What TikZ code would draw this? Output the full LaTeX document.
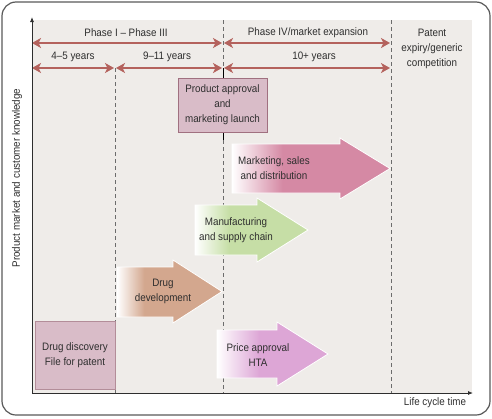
\documentclass[tikz,border=0pt]{standalone}
\usepackage{fontspec}
\setmainfont{Liberation Sans}[FakeStretch=0.91]
\usetikzlibrary{arrows.meta}
\definecolor{bg}{HTML}{EFECE9}
\definecolor{phase}{HTML}{B4625D}
\definecolor{mkt}{HTML}{D589A4}
\definecolor{mfg}{HTML}{C6DEA6}
\definecolor{dev}{HTML}{D3A78E}
\definecolor{price}{HTML}{DDA6D6}
\definecolor{boxfill}{HTML}{D9BCC8}
\definecolor{boxline}{HTML}{A07080}
\definecolor{txt}{HTML}{2E2E2E}
\pgfdeclarehorizontalshading{mktshade}{100bp}{color(0bp)=(white); color(25bp)=(white); color(41bp)=(mkt); color(100bp)=(mkt)}
\pgfdeclarehorizontalshading{mfgshade}{100bp}{color(0bp)=(white); color(25bp)=(white); color(40bp)=(mfg); color(100bp)=(mfg)}
\pgfdeclarehorizontalshading{devshade}{100bp}{color(0bp)=(white); color(25bp)=(white); color(38bp)=(dev); color(100bp)=(dev)}
\pgfdeclarehorizontalshading{priceshade}{100bp}{color(0bp)=(white); color(25bp)=(white); color(44bp)=(price); color(100bp)=(price)}
\begin{document}
\begin{tikzpicture}[x=1pt,y=-1pt,
  lbl/.style={text=txt,font=\fontsize{10.8}{15}\selectfont,align=center,inner sep=0pt},
  phasearrow/.style={draw=phase,line width=2.4pt,{Stealth[length=9pt,width=10pt,inset=2.5pt]}-{Stealth[length=9pt,width=10pt,inset=2.5pt]}},
  guide/.style={draw=gray!85!black,line width=0.6pt,dash pattern=on 4pt off 3pt},
  milestone/.style={draw=boxline,fill=boxfill,line width=0.7pt},
  blockarrow/.style={draw=white,line width=0.8pt},
  axis/.style={draw=txt,line width=0.8pt,-{Latex[length=5pt,width=4pt]}}]
\useasboundingbox (0,0) rectangle (492,418);
% frame and plot area
\draw[draw=black!65,line width=1.2pt,rounded corners=14pt] (2,2) rectangle (490,415);
\fill[bg] (32,20) rectangle (472,393);
% guide lines
\draw[guide] (115,68) -- (115,393);
\draw[guide] (223,20) -- (223,68);
\draw[guide] (223,140) -- (223,393);
\draw[guide] (391,20) -- (391,393);
\draw[draw=black,line width=1pt] (223,68) -- (223,140);
% coordinates for phase arrows
\coordinate (a0) at (32,43);
\coordinate (a1) at (222,43);
\coordinate (a2) at (224,43);
\coordinate (a3) at (390,43);
\coordinate (b0) at (32,68);
\coordinate (b1) at (114,68);
\coordinate (b2) at (116,68);
\coordinate (b3) at (222,68);
\coordinate (b4) at (224,68);
\coordinate (b5) at (390,68);
\draw[phasearrow] (a0) -- (a1);
\draw[phasearrow] (a2) -- (a3);
\draw[phasearrow] (b0) -- (b1);
\draw[phasearrow] (b2) -- (b3);
\draw[phasearrow] (b4) -- (b5);
% labels of phases
\node[lbl] (p13) at (126,33) {Phase I -- Phase III};
\node[lbl] (p4) at (308,33) {Phase IV/market expansion};
\node[lbl] (y45) at (73,57) {4--5 years};
\node[lbl] (y911) at (167,57) {9--11 years};
\node[lbl] (y10) at (314,57) {10+ years};
\node[lbl] (patent) at (432,49) {Patent\\expiry/generic\\competition};
% block arrows
\shadedraw[blockarrow,shading=mktshade] (232,144) -- (340,144) -- (340,138) -- (390,168.5) -- (340,199) -- (340,193) -- (232,193) -- cycle;
\shadedraw[blockarrow,shading=mfgshade] (195,205) -- (257,205) -- (257,198) -- (308,230) -- (257,262) -- (257,255) -- (195,255) -- cycle;
\shadedraw[blockarrow,shading=devshade] (117,267) -- (173,267) -- (173,260) -- (222,291.5) -- (173,323) -- (173,317) -- (117,317) -- cycle;
\shadedraw[blockarrow,shading=priceshade] (217,330) -- (277,330) -- (277,322) -- (328,354) -- (277,386) -- (277,378) -- (217,378) -- cycle;
\node[lbl] (mktl) at (274,168) {Marketing, sales\\and distribution};
\node[lbl] (mfgl) at (236,230) {Manufacturing\\and supply chain};
\node[lbl] (devl) at (163,291) {Drug\\development};
\node[lbl] (pricel) at (258,355) {Price approval\\HTA};
% milestone boxes
\node[milestone,lbl,minimum width=89pt,minimum height=54pt] (approval) at (222.5,105) {Product approval\\and\\marketing launch};
\node[milestone,lbl,minimum width=80pt,minimum height=68pt,draw=boxline!80] (discovery) at (75,355) {Drug discovery\\File for patent};
% axes
\coordinate (origin) at (32,393);
\coordinate (ytop) at (32,17);
\coordinate (xend) at (473,393);
\draw[axis] (origin) -- (ytop);
\draw[axis] (origin) -- (xend);
\node[lbl,rotate=90] (ylab) at (17,178) {Product market and customer knowledge};
\node[lbl] (xlab) at (435,403) {Life cycle time};
\end{tikzpicture}
\end{document}
